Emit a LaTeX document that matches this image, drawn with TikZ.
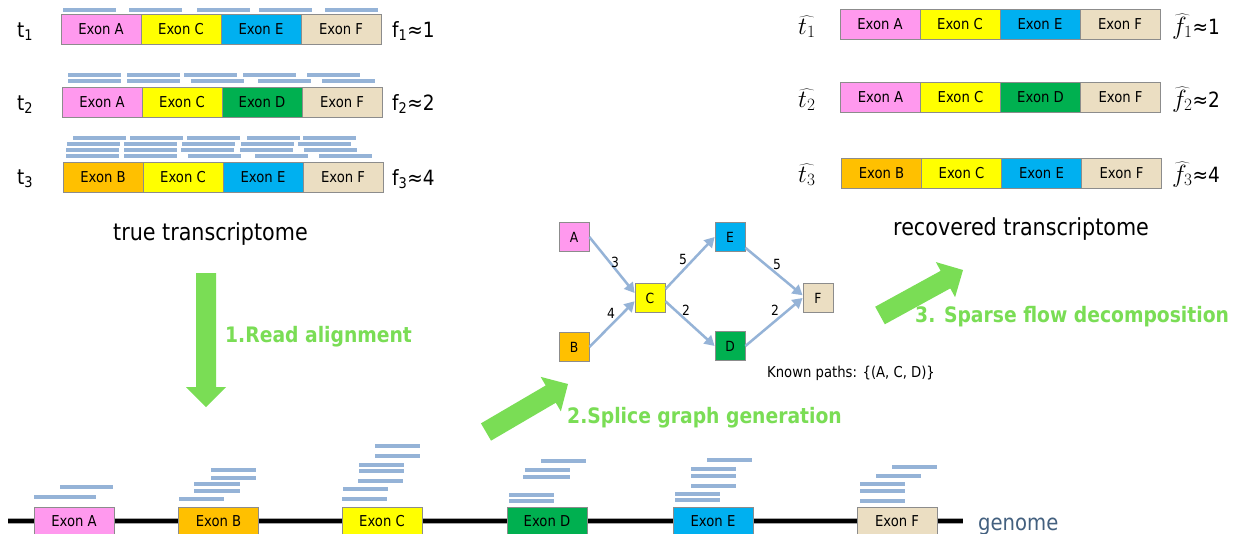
\documentclass[tikz,border=0pt]{standalone}
\usepackage[no-math]{fontspec}
\setmainfont{DejaVu Sans}[FakeStretch=0.88]
\usetikzlibrary{arrows.meta,calc}
\definecolor{exA}{HTML}{FF99EE}
\definecolor{exB}{HTML}{FFC000}
\definecolor{exC}{HTML}{FFFF00}
\definecolor{exD}{HTML}{00B050}
\definecolor{exE}{HTML}{00B0F0}
\definecolor{exF}{HTML}{EBDEC2}
\definecolor{boxgray}{HTML}{8C8C8C}
\definecolor{readblue}{HTML}{95B3D7}
\definecolor{grn}{HTML}{7ADD55}
\definecolor{genblue}{HTML}{43607F}
\newcommand{\grarrow}[2]{%
  \coordinate (gb) at ($(#2)!20pt!(#1)$);
  \fill[grn] ($(#1)!10pt!90:(#2)$) -- ($(gb)!10pt!-90:(#1)$) -- ($(gb)!20pt!-90:(#1)$) -- (#2)
    -- ($(gb)!20pt!90:(#1)$) -- ($(gb)!10pt!90:(#1)$) -- ($(#1)!10pt!-90:(#2)$) -- cycle;}
\newcommand{\bigmath}[1]{{\fontsize{26}{30}\selectfont$#1$}}
\begin{document}
\begin{tikzpicture}[x=1pt,y=-1pt,
  exon/.style={draw=boxgray, line width=0.8pt, minimum width=80pt, minimum height=30pt, inner sep=0pt, font=\fontsize{15}{18}\selectfont},
  gnode/.style={draw=boxgray, line width=0.8pt, minimum width=30pt, minimum height=29pt, inner sep=0pt, font=\fontsize{14}{16}\selectfont},
  readl/.style={line width=3.5pt, draw=readblue},
  garrow/.style={draw=readblue, line width=2.5pt, -{Triangle[length=10pt,width=11pt]}},
  elabel/.style={inner sep=0pt, font=\fontsize{14}{16}\selectfont},
  bigtext/.style={inner sep=0pt, anchor=base west, font=\fontsize{23.5}{28}\selectfont},
  tlabel/.style={inner sep=0pt, anchor=base west, font=\fontsize{21}{25}\selectfont},
  greentext/.style={inner sep=0pt, anchor=base west, text=grn, font=\bfseries\fontsize{21.3}{25}\selectfont}]
\useasboundingbox (0,0) rectangle (1236,533);
\fill[white] (0,0) rectangle (1236,533);

% ---------- true transcriptome ----------
\foreach \c/\l [count=\i] in {exA/Exon A, exC/Exon C, exE/Exon E, exF/Exon F}
  \node[exon, fill=\c] (L1-\i) at ({21+80*\i},29) {\l};
\foreach \c/\l [count=\i] in {exA/Exon A, exC/Exon C, exD/Exon D, exF/Exon F}
  \node[exon, fill=\c] (L2-\i) at ({22+80*\i},102.5) {\l};
\foreach \c/\l [count=\i] in {exB/Exon B, exC/Exon C, exE/Exon E, exF/Exon F}
  \node[exon, fill=\c] (L3-\i) at ({23+80*\i},177.5) {\l};

\node[tlabel] (t1) at (17,37) {t\textsubscript{1}};
\node[tlabel] (t2) at (17,110) {t\textsubscript{2}};
\node[tlabel] (t3) at (17,184) {t\textsubscript{3}};
\node[tlabel] (f1) at (392,37) {f\textsubscript{1}≈1};
\node[tlabel] (f2) at (392,110) {f\textsubscript{2}≈2};
\node[tlabel] (f3) at (392,185) {f\textsubscript{3}≈4};

% reads on transcripts
\foreach \y/\xs in {10/{63,129,197,259,325},
                    75/{68,127,184,243,307},
                    81/{68,127,191,258,322},
                    138/{73,130,187,247,303},
                    144/{67,124,182,241,298},
                    150/{66,124,181,240,304},
                    156/{66,124,188,255,319}}
  \foreach \x in \xs \draw[readl] (\x,\y) -- ({\x+53},\y);

\node[bigtext] (truet) at (113,240) {true transcriptome};

% ---------- recovered transcriptome ----------
\foreach \c/\l [count=\i] in {exA/Exon A, exC/Exon C, exE/Exon E, exF/Exon F}
  \node[exon, fill=\c] (R1-\i) at ({800+80*\i},24.5) {\l};
\foreach \c/\l [count=\i] in {exA/Exon A, exC/Exon C, exD/Exon D, exF/Exon F}
  \node[exon, fill=\c] (R2-\i) at ({800.5+80*\i},97) {\l};
\foreach \c/\l [count=\i] in {exB/Exon B, exC/Exon C, exE/Exon E, exF/Exon F}
  \node[exon, fill=\c] (R3-\i) at ({801.5+80*\i},173) {\l};

\node[tlabel] (th1) at (798,34) {\bigmath{\widehat{t_1}}};
\node[tlabel] (th2) at (798,107) {\bigmath{\widehat{t_2}}};
\node[tlabel] (th3) at (798,182) {\bigmath{\widehat{t_3}}};
\node[tlabel] (fh1) at (1172,34) {\bigmath{\widehat{f_1}}≈1};
\node[tlabel] (fh2) at (1172,107) {\bigmath{\widehat{f_2}}≈2};
\node[tlabel] (fh3) at (1172,182) {\bigmath{\widehat{f_3}}≈4};

\node[bigtext] (rect) at (893,235) {recovered transcriptome};

% ---------- splice graph ----------
\node[gnode, fill=exA] (A) at (574,237) {A};
\node[gnode, fill=exB] (B) at (574,347) {B};
\node[gnode, fill=exC] (C) at (650,298) {C};
\node[gnode, fill=exE] (E) at (730,237) {E};
\node[gnode, fill=exD] (D) at (730,346) {D};
\node[gnode, fill=exF] (F) at (818,298) {F};

\draw[garrow] (A.east) -- (C.162);
\draw[garrow] (B.east) -- (C.192);
\draw[garrow] (C.30) -- (E.west);
\draw[garrow] (C.-12) -- (D.west);
\draw[garrow] (E.-35) -- (F.170);
\draw[garrow] (D.east) -- (F.west);

\node[elabel] (n3) at (615,262) {3};
\node[elabel] (n5a) at (683,259) {5};
\node[elabel] (n5b) at (777,264) {5};
\node[elabel] (n4) at (611,313) {4};
\node[elabel] (n2a) at (686,310) {2};
\node[elabel] (n2b) at (775,310) {2};

\node[inner sep=0pt, anchor=base west, font=\fontsize{15}{18}\selectfont] (known) at (767,377) {Known paths: \{(A, C, D)\}};

% ---------- green step arrows ----------
\coordinate (a1s) at (206,273);
\coordinate (a1e) at (206,407);
\grarrow{a1s}{a1e}
\coordinate (a2s) at (486,432);
\coordinate (a2e) at (568,384);
\grarrow{a2s}{a2e}
\coordinate (a3s) at (880,315.5);
\coordinate (a3e) at (963,270);
\grarrow{a3s}{a3e}

\node[greentext] (s1) at (225,342) {1.Read alignment};
\node[greentext] (s2) at (567,423) {2.Splice graph generation};
\node[greentext] (s3) at (915,322) {3. Sparse flow decomposition};

% ---------- genome ----------
\coordinate (g0) at (8,520.5);
\coordinate (g1) at (963,520.5);
\draw[line width=6pt, black!35] (g0) -- (g1);
\draw[line width=4pt, black] (g0) -- (g1);

\foreach \y/\a/\b in {497/34/96, 487/60/113,
   499/179/224, 491/194/240, 484/194/240, 478/211/256, 470/211/256,
   499/342/387, 489/343/388, 481/358/403, 471/359/404, 465/359/404, 456/375/420, 446/375/420,
   501/509/554, 495/509/554, 477/523/570, 470/525/570, 461/541/586,
   500/675/720, 494/675/720, 486/691/736, 476/691/736, 469/691/736, 460/707/752,
   501/860/905, 491/860/905, 484/860/905, 476/876/921, 467/892/937}
  \draw[readl] (\a,\y) -- (\b,\y);

\node[exon, fill=exA, minimum height=28pt] (GA) at (74,521) {Exon A};
\node[exon, fill=exB, minimum height=28pt] (GB) at (218.5,521) {Exon B};
\node[exon, fill=exC, minimum height=28pt] (GC) at (382,521) {Exon C};
\node[exon, fill=exD, minimum height=28pt] (GD) at (547,521) {Exon D};
\node[exon, fill=exE, minimum height=28pt] (GE) at (713,521) {Exon E};
\node[exon, fill=exF, minimum height=28pt] (GF) at (897,521) {Exon F};

\node[inner sep=0pt, anchor=base west, text=genblue, font=\fontsize{22.3}{26}\selectfont] (genome) at (978,530) {genome};
\end{tikzpicture}
\end{document}
